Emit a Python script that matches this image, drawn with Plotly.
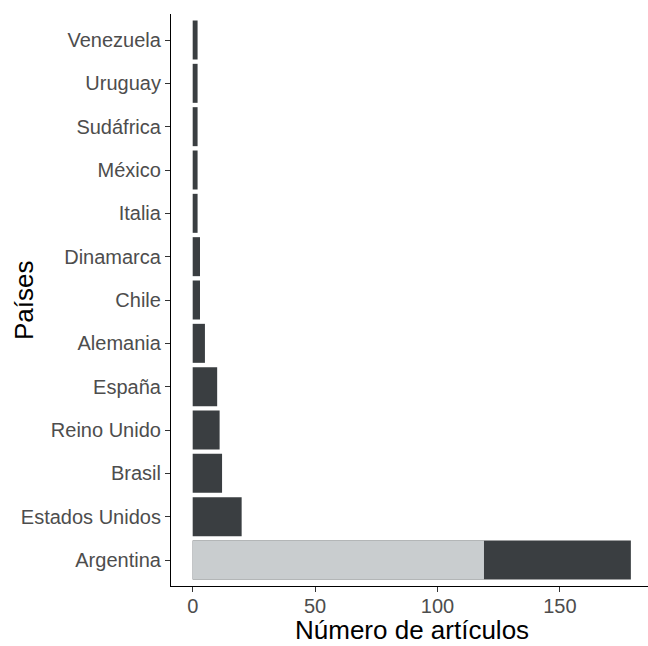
import plotly.graph_objects as go

# Data
countries = ["Argentina", "Estados Unidos", "Brasil", "Reino Unido", "España",
             "Alemania", "Chile", "Dinamarca", "Italia", "México",
             "Sudáfrica", "Uruguay", "Venezuela"]
articles = [179, 20, 12, 11, 10, 5, 3, 3, 2, 2, 2, 2, 2]
highlight_country = ["Argentina"]
highlight_value = [119]
x_title = "Número de artículos"
y_title = "Países"

dark = "#3A3E41"
light = "#C9CDCF"
font_family = "Liberation Sans, Arial, sans-serif"

W, H = 648, 646
ML, MR, MT, MB = 171, 0, 14, 60
pw, ph = W - ML - MR, H - MT - MB

fig = go.Figure()
fig.add_trace(go.Bar(
    y=countries, x=articles, orientation="h",
    marker=dict(color=dark, line=dict(width=0)),
    width=0.9, showlegend=False, hoverinfo="x+y",
))
fig.add_trace(go.Bar(
    y=highlight_country, x=highlight_value, orientation="h",
    marker=dict(color=light, line=dict(width=0)),
    width=0.9, showlegend=False, hoverinfo="x+y",
))

fig.update_layout(
    width=W, height=H,
    margin=dict(l=ML, r=MR, t=MT, b=MB),
    barmode="overlay",
    plot_bgcolor="white", paper_bgcolor="white",
    font=dict(family=font_family, color="#4D4D4D", size=20),
)

fig.update_xaxes(
    range=[-8.86, 186],
    tickvals=[0, 50, 100, 150],
    ticks="outside", ticklen=5, tickwidth=1, tickcolor="#333333",
    ticklabelstandoff=-3,
    showline=True, linecolor="black", linewidth=1.2,
    showgrid=False, zeroline=False,
    tickfont=dict(size=20, color="#4D4D4D"),
    automargin=False,
)
fig.update_yaxes(
    type="category",
    categoryorder="array", categoryarray=countries,
    range=[-0.6, len(countries) - 0.4],
    ticks="outside", ticklen=5, tickwidth=1, tickcolor="#333333",
    showline=True, linecolor="black", linewidth=1.2,
    showgrid=False, zeroline=False,
    tickfont=dict(size=20, color="#4D4D4D"),
    automargin=False,
)

# Axis titles placed as annotations (pixel positions converted to paper coords)
fig.add_annotation(
    text=x_title, xref="paper", yref="paper",
    x=(412 - ML) / pw, y=(H - MB - 646) / ph,
    xanchor="center", yanchor="bottom", showarrow=False, borderpad=0,
    font=dict(size=26, color="black", family=font_family),
)
fig.add_annotation(
    text=y_title, xref="paper", yref="paper",
    x=(24 - ML) / pw, y=(H - MB - 300) / ph,
    xanchor="center", yanchor="middle", showarrow=False, textangle=-90,
    font=dict(size=26, color="black", family=font_family),
)

fig.write_html("out.html", config={"displayModeBar": False},
               post_script="document.body.style.margin='0';")
